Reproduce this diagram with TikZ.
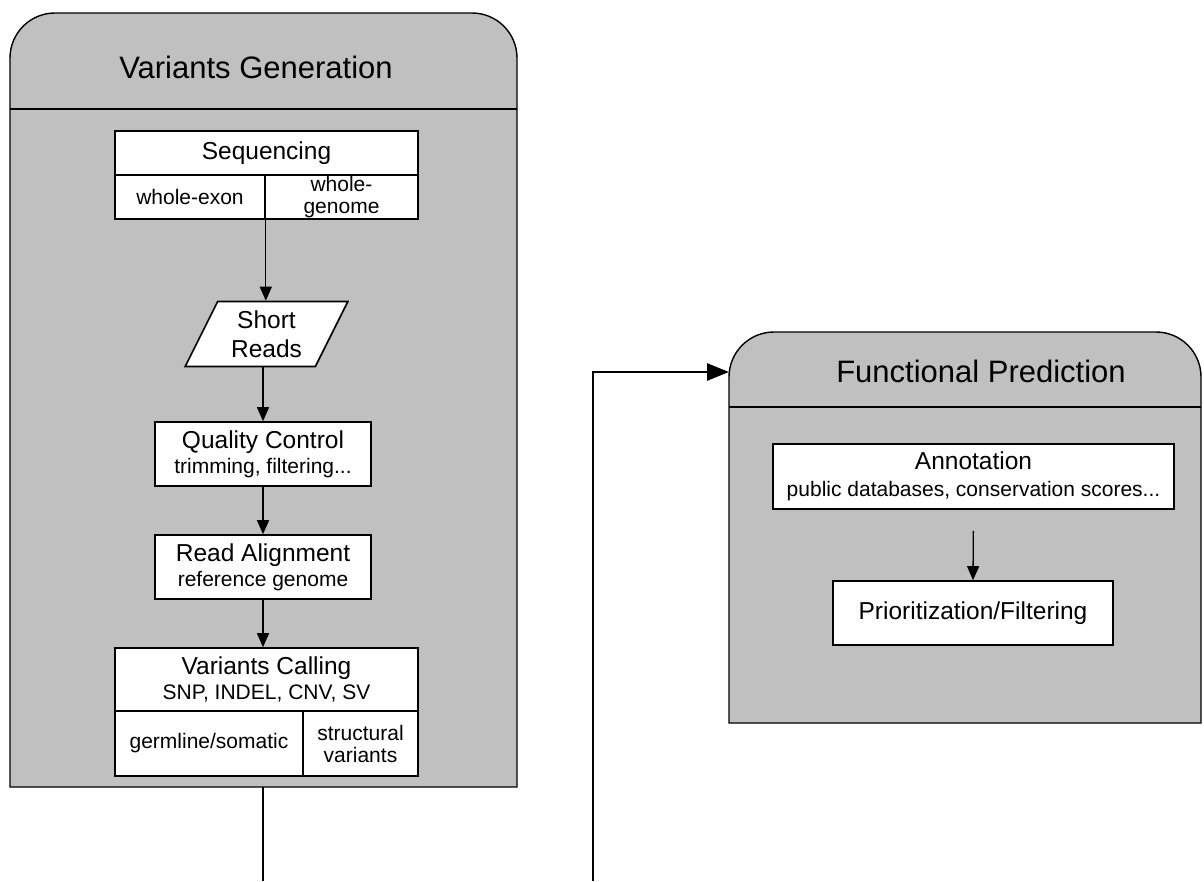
\documentclass[tikz,border=0pt]{standalone}
\usepackage{fontspec}
\setmainfont{Liberation Sans}
\usetikzlibrary{arrows.meta,shapes.geometric}
\definecolor{panelgray}{RGB}{192,192,192}

\newcommand{\titlefont}{\fontsize{31}{36}\selectfont}
\newcommand{\boxfont}{\fontsize{24.5}{27}\selectfont}
\newcommand{\subfont}{\fontsize{21}{22}\selectfont}

\tikzset{
  panel/.style={fill=panelgray,draw=black,line width=1.4pt},
  cell/.style={draw=black,fill=white,line width=1.6pt,inner sep=0pt,align=center},
  reads/.style={cell,trapezium,trapezium left angle=63.4,trapezium right angle=116.6,
    minimum width=163,minimum height=64},
  flow/.style={line width=1.3pt,-{Triangle[length=14pt,width=12pt]}},
  link/.style={line width=2.8pt},
}

\begin{document}
\begin{tikzpicture}[x=1pt,y=1pt,line cap=butt,line join=miter]
  \useasboundingbox (0,0) rectangle (1204,-881);
  % panels
  \draw[panel] (10,-787) -- (10,-58) arc[start angle=180,end angle=90,radius=45]
    -- (472,-13) arc[start angle=90,end angle=0,radius=45] -- (517,-787) -- cycle;
  \draw[line width=1.4pt] (10,-109) -- (517,-109);
  \draw[panel] (729,-723) -- (729,-377) arc[start angle=180,end angle=90,radius=45]
    -- (1156,-332) arc[start angle=90,end angle=0,radius=45] -- (1201,-723) -- cycle;
  \draw[line width=1.4pt] (729,-407) -- (1201,-407);
  \node[font=\titlefont] (gentitle) at (256,-67) {Variants Generation};
  \node[font=\titlefont] (predtitle) at (981,-371) {Functional Prediction};
  % variants generation
  \node[cell,font=\boxfont,minimum width=303,minimum height=44] (seq) at (266.5,-153) {Sequencing};
  \node[cell,font=\subfont,minimum width=150,minimum height=44] (seqexon) at (190,-197) {whole-exon};
  \node[cell,font=\subfont,minimum width=153,minimum height=44] (seqgenome) at (341.5,-197) {whole-\\genome};
  \node[reads,font=\fontsize{24.5}{29}\selectfont] (reads) at (266.5,-334) {Short\\Reads};
  \node[cell,font=\fontsize{21}{25}\selectfont,minimum width=216,minimum height=64] (qc) at (263,-454)
    {{\boxfont Quality Control}\\{\subfont trimming, filtering...}};
  \node[cell,font=\fontsize{21}{25}\selectfont,minimum width=216,minimum height=64] (align) at (263,-567)
    {{\boxfont Read Alignment}\\{\subfont reference genome}};
  \node[cell,font=\fontsize{21}{25}\selectfont,minimum width=303,minimum height=63] (calling) at (266.5,-679.5)
    {{\boxfont Variants Calling}\\{\subfont SNP, INDEL, CNV, SV}};
  \node[cell,font=\subfont,minimum width=188,minimum height=65] (germ) at (209,-743.5) {germline/somatic};
  \node[cell,font=\subfont,minimum width=115,minimum height=65] (struct) at (360.5,-743.5) {structural\\variants};
  \draw[flow] (seqexon.south east) -- (seqexon.south east |- reads.north);
  \draw[flow] (qc.north |- reads.south) -- (qc.north);
  \draw[flow] (qc.south) -- (align.north);
  \draw[flow] (align.south) -- (align.south |- calling.north);
  % functional prediction
  \node[cell,font=\fontsize{21}{27}\selectfont,minimum width=401,minimum height=65] (annot) at (973.5,-476.5)
    {{\boxfont Annotation}\\{\subfont public databases, conservation scores...}};
  \node[cell,font=\boxfont,minimum width=280,minimum height=64] (prio) at (973,-613) {Prioritization/Filtering};
  \draw[flow,shorten <=21pt] (annot.south) -- (prio.north);
  % links between panels
  \coordinate (genbot) at (263,-787);
  \coordinate (outA) at (263,-881);
  \coordinate (inB) at (593,-881);
  \coordinate (predin) at (729,-372);
  \draw[link] (genbot) -- (outA);
  \draw[link,-{Triangle[length=22pt,width=17pt]}] (inB) |- (predin);
\end{tikzpicture}
\end{document}
